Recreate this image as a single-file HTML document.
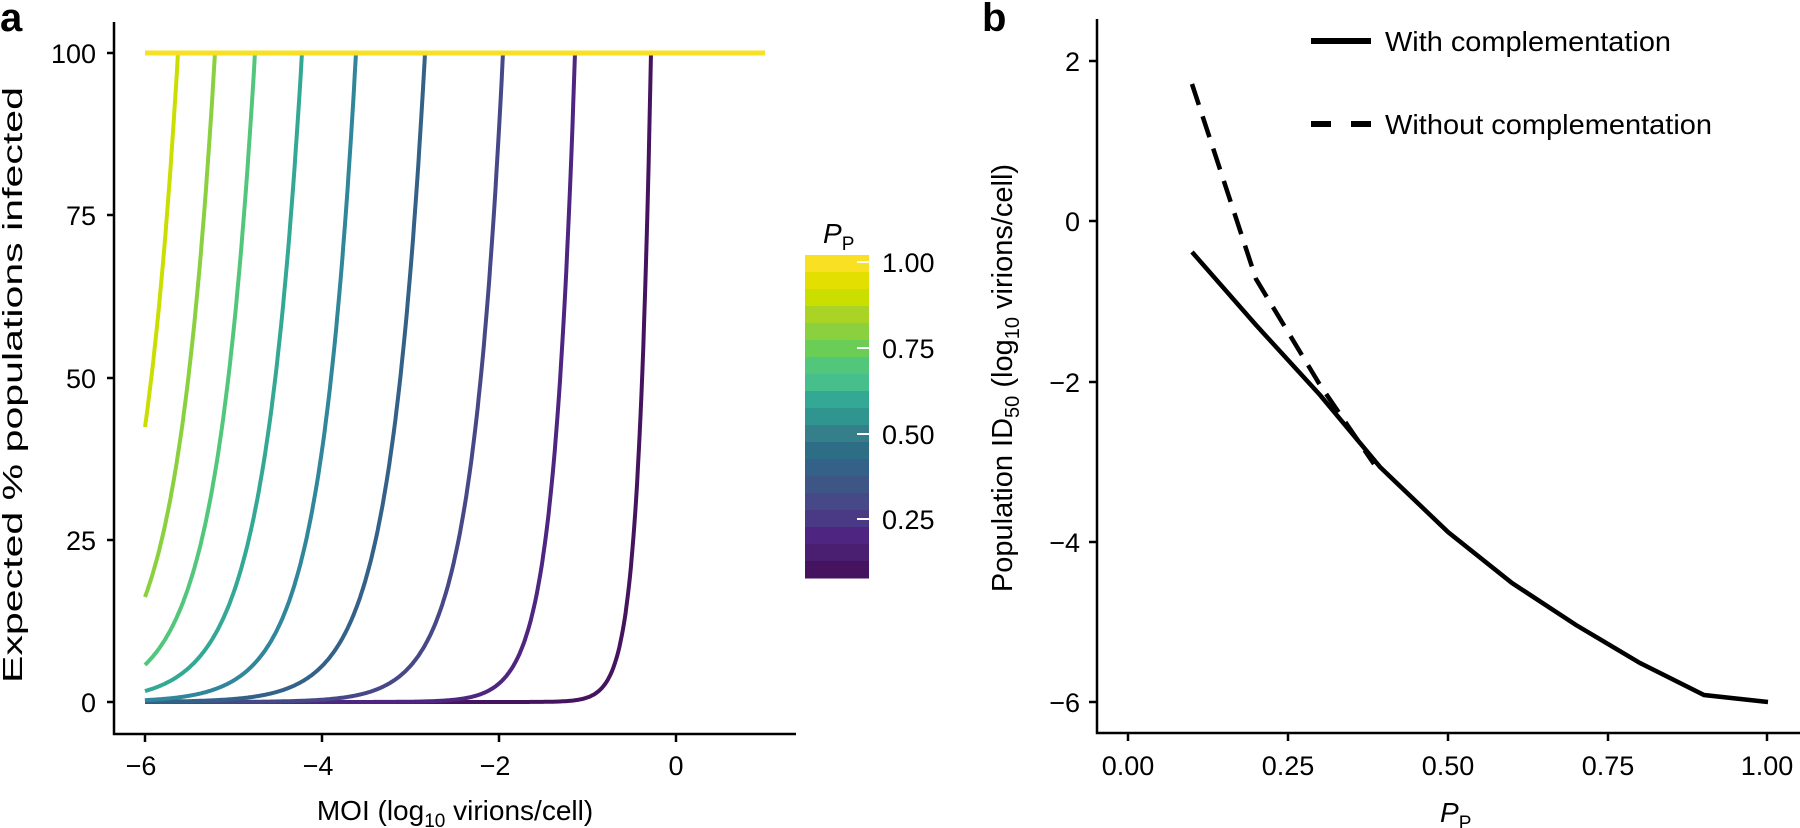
<!DOCTYPE html>
<html><head><meta charset="utf-8"><style>
html,body{margin:0;padding:0;background:#fff;}
svg{display:block;font-family:"Liberation Sans",Arial,sans-serif;}
</style></head><body>
<svg id="s" width="1800" height="828" viewBox="0 0 1800 828" xmlns="http://www.w3.org/2000/svg">
<rect width="1800" height="828" fill="#fff"/>
<text x="0" y="31" font-size="40" font-weight="bold">a</text>
<text x="982" y="31" font-size="40" font-weight="bold">b</text>

<g stroke="#000" stroke-width="2.5" fill="none">
<path d="M114,22 V734 H796"/>
<path d="M107,53 H114 M107,215 H114 M107,378 H114 M107,540 H114 M107,702 H114"/>
<path d="M145,734 V742 M322,734 V742 M499,734 V742 M676,734 V742"/>
</g>
<g font-size="27" text-anchor="end" fill="#000">
<text x="96" y="63">100</text>
<text x="96" y="225">75</text>
<text x="96" y="388">50</text>
<text x="96" y="550">25</text>
<text x="96" y="712">0</text>
</g>
<g font-size="27" text-anchor="middle" fill="#000">
<text x="141" y="775">−6</text>
<text x="318" y="775">−4</text>
<text x="495" y="775">−2</text>
<text x="676" y="775">0</text>
</g>
<text x="455" y="820" font-size="28" text-anchor="middle">MOI (log<tspan font-size="19" dy="7">10</tspan><tspan dy="-7"> virions/cell)</tspan></text>
<text transform="translate(22,385) rotate(-90)" font-size="28" text-anchor="middle" textLength="596" lengthAdjust="spacingAndGlyphs">Expected % populations infected</text>

<g id="curves" fill="none" stroke-width="4" stroke-linejoin="round"></g>
<line x1="145" y1="53" x2="765" y2="53" stroke="#f8e023" stroke-width="5"/>

<g id="cbar"></g>
<text x="823" y="243" font-size="28" font-style="italic">P<tspan font-style="normal" font-size="19" dy="7">P</tspan></text>
<g stroke="#fff" stroke-width="2">
<path d="M857,262 H869 M857,348 H869 M857,434 H869 M857,519 H869"/>
</g>
<g font-size="27" fill="#000">
<text x="882" y="272">1.00</text>
<text x="882" y="358">0.75</text>
<text x="882" y="444">0.50</text>
<text x="882" y="529">0.25</text>
</g>

<g stroke="#000" stroke-width="2.5" fill="none">
<path d="M1097,19 V733 H1800"/>
<path d="M1089,61 H1097 M1089,221 H1097 M1089,382 H1097 M1089,542 H1097 M1089,702 H1097"/>
<path d="M1128,733 V741 M1288,733 V741 M1448,733 V741 M1608,733 V741 M1767,733 V741"/>
</g>
<g font-size="27" text-anchor="end" fill="#000">
<text x="1080" y="71">2</text>
<text x="1080" y="231">0</text>
<text x="1080" y="392">−2</text>
<text x="1080" y="552">−4</text>
<text x="1080" y="712">−6</text>
</g>
<g font-size="27" text-anchor="middle" fill="#000">
<text x="1128" y="775">0.00</text>
<text x="1288" y="775">0.25</text>
<text x="1448" y="775">0.50</text>
<text x="1608" y="775">0.75</text>
<text x="1767" y="775">1.00</text>
</g>
<text x="1440" y="822" font-size="28" font-style="italic">P<tspan font-style="normal" font-size="19" dy="7">P</tspan></text>
<text transform="translate(1012,378) rotate(-90)" font-size="29" text-anchor="middle">Population ID<tspan font-size="20" dy="7">50</tspan><tspan dy="-7"> (log</tspan><tspan font-size="20" dy="7">10</tspan><tspan dy="-7"> virions/cell)</tspan></text>

<polyline fill="none" stroke="#000" stroke-width="4.5" points="1192,252 1256,325 1320,395 1380,467 1448,532 1512,583 1576,625 1640,663 1704,695 1768,702"/>
<polyline fill="none" stroke="#000" stroke-width="4.5" stroke-dasharray="22,12" points="1192,84 1256,279 1320,385 1374,464"/>

<line x1="1311" y1="41" x2="1371" y2="41" stroke="#000" stroke-width="6"/>
<text x="1385" y="51" font-size="28" textLength="286" lengthAdjust="spacingAndGlyphs">With complementation</text>
<path d="M1311,124 H1331 M1351,124 H1371" stroke="#000" stroke-width="6"/>
<text x="1385" y="134" font-size="28" textLength="327" lengthAdjust="spacingAndGlyphs">Without complementation</text>
</svg>
<script>
(function(){
var NS="http://www.w3.org/2000/svg";
var g=document.getElementById("curves");
var ends=[178,215,255,302,356,425,503,575,651];
var ks=[1,1,1,1,1.07,1.08,1.2,1.8,3.0];
var cols=["#cade00","#8bd03e","#52c77c","#32a895","#30869a","#346188","#474888","#4e2580","#46145e"];
function X(v){return 676+88.5*v;}
function Y(p){return 702-6.49*p;}
for(var i=8;i>=0;i--){
  var xe=(ends[i]-676)/88.5,k=ks[i],d="";
  for(var x=-6;x<=xe+1e-9;x+=0.01){
    var p=100*Math.min(1,Math.pow(10,k*(x-xe)));
    d+=(d?"L":"M")+X(x).toFixed(1)+","+Y(p).toFixed(1);
  }
  d+="L"+X(xe).toFixed(1)+","+Y(100).toFixed(1)+"L"+X(1).toFixed(1)+","+Y(100).toFixed(1);
  var p=document.createElementNS(NS,"path");
  p.setAttribute("d",d);p.setAttribute("stroke",cols[i]);
  g.appendChild(p);
}
var cb=["#f9e023","#e3df00","#cade00","#a9d325","#8bd03e","#6acd55","#52c77c","#47bf8d","#32a895","#30948f","#357f8a","#2e6d86","#346188","#3e5686","#474888","#4a3a85","#4e2580","#4a1e70","#46145e"];
var c=document.getElementById("cbar");
for(var j=0;j<19;j++){
  var r=document.createElementNS(NS,"rect");
  r.setAttribute("x",805);r.setAttribute("y",(255+j*17).toFixed(1));
  r.setAttribute("width",64);r.setAttribute("height",17.5);
  r.setAttribute("fill",cb[j]);c.appendChild(r);
}
})();
</script>
</body></html>
